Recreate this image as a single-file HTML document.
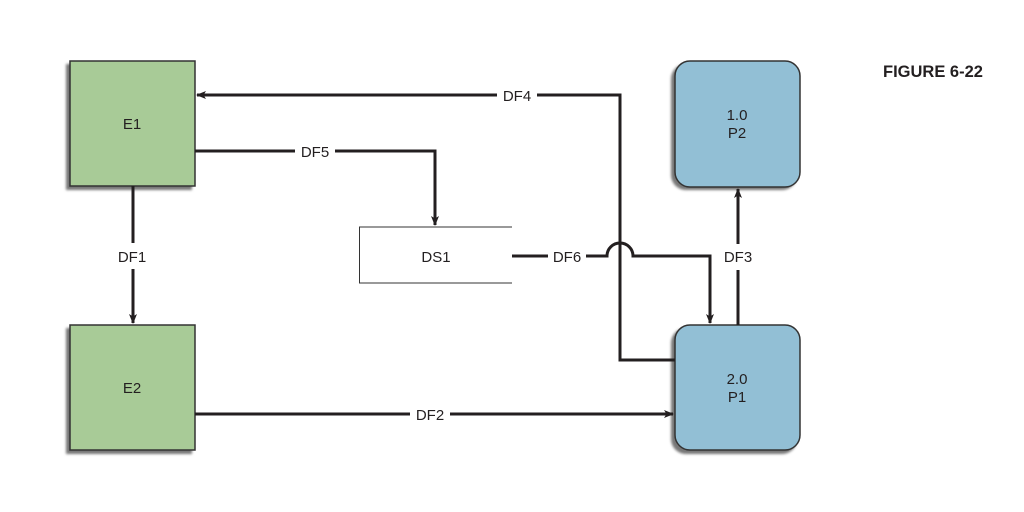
<!DOCTYPE html>
<html><head><meta charset="utf-8"><style>
html,body{margin:0;padding:0;background:#fff;}
svg{display:block;}
text{font-family:"Liberation Sans Narrow","Liberation Sans",sans-serif;font-size:15px;fill:#231f20;}
</style></head><body>
<svg width="1024" height="512" viewBox="0 0 1024 512" xmlns="http://www.w3.org/2000/svg">
<defs>
<marker id="a" markerWidth="10" markerHeight="8" refX="9" refY="4" orient="auto" markerUnits="userSpaceOnUse">
<path d="M0,0 L10,4 L0,8 L2.5,4 Z" fill="#231f20"/>
</marker>
<filter id="sh" x="-10%" y="-10%" width="120%" height="120%"><feGaussianBlur stdDeviation="1.2"/></filter>
</defs>
<!-- shadows -->
<rect x="66" y="64" width="126" height="126" fill="#777" filter="url(#sh)"/>
<rect x="66" y="328" width="126" height="126" fill="#777" filter="url(#sh)"/>
<rect x="671" y="64" width="126" height="126" rx="15" fill="#777" filter="url(#sh)"/>
<rect x="671" y="328" width="126" height="126" rx="15" fill="#777" filter="url(#sh)"/>
<!-- boxes -->
<rect x="70" y="61" width="125" height="125" fill="#a8cb97" stroke="#333" stroke-width="1.5"/>
<rect x="70" y="325" width="125" height="125" fill="#a8cb97" stroke="#333" stroke-width="1.5"/>
<rect x="675" y="61" width="125" height="126" rx="15" fill="#92bfd5" stroke="#333" stroke-width="1.5"/>
<rect x="675" y="325" width="125" height="125" rx="15" fill="#92bfd5" stroke="#333" stroke-width="1.5"/>
<!-- DS1 -->
<path d="M512,227 H359.5 V283 H512" fill="none" stroke="#333" stroke-width="1"/>
<g fill="none" stroke="#231f20" stroke-width="3">
<!-- DF4 -->
<path d="M675,360 H620 V95 H537"/>
<path d="M497,95 H197" marker-end="url(#a)"/>
<!-- DF5 -->
<path d="M195,151 H295"/>
<path d="M335,151 H435 V225" marker-end="url(#a)"/>
<!-- DF1 -->
<path d="M133,186 V243"/>
<path d="M133,269 V323" marker-end="url(#a)"/>
<!-- DF2 -->
<path d="M195,414 H410"/>
<path d="M450,414 H673" marker-end="url(#a)"/>
<!-- DF6 -->
<path d="M512,256 H548"/>
<path d="M586,256 H607 A13,13 0 0 1 633,256 H710 V323" marker-end="url(#a)"/>
<!-- DF3 -->
<path d="M738,325 V270"/>
<path d="M738,244 V189" marker-end="url(#a)"/>
</g>
<g text-anchor="middle">
<text x="132" y="129">E1</text>
<text x="132" y="393">E2</text>
<text x="737" y="120">1.0</text>
<text x="737" y="138">P2</text>
<text x="737" y="384">2.0</text>
<text x="737" y="402">P1</text>
<text x="436" y="262">DS1</text>
<text x="517" y="101">DF4</text>
<text x="315" y="157">DF5</text>
<text x="132" y="262">DF1</text>
<text x="430" y="420">DF2</text>
<text x="567" y="262">DF6</text>
<text x="738" y="262">DF3</text>
</g>
<text x="883" y="77" style="font-family:'Liberation Sans',sans-serif;font-weight:bold;font-size:16.5px;">FIGURE 6-22</text>
</svg>
</body></html>
